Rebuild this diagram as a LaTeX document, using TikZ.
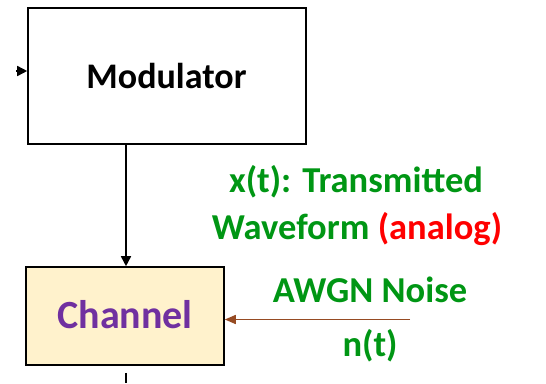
\documentclass[tikz,border=0pt]{standalone}
\usepackage{fontspec}
\setmainfont{Carlito}
\usetikzlibrary{arrows.meta}
\definecolor{tgreen}{RGB}{0,150,20}
\definecolor{tred}{RGB}{255,0,0}
\definecolor{tpurple}{RGB}{112,48,160}
\definecolor{tfill}{RGB}{255,242,204}
\definecolor{tbrown}{RGB}{150,75,35}
\tikzset{
  blockbox/.style={draw=black, line width=1.6pt, inner sep=0pt},
  conn/.style={line width=1.6pt, -{Triangle[length=10pt,width=10pt]}},
  lbl/.style={anchor=base, inner sep=0pt, font=\fontsize{36.5}{44}\selectfont\bfseries},
}
\begin{document}
\begin{tikzpicture}[x=1pt,y=-1pt]
\useasboundingbox (0,0) rectangle (546,383);
\node[blockbox, minimum width=278pt, minimum height=136pt] (mod) at (167,76) {};
\node[lbl, font=\fontsize{36}{44}\selectfont\bfseries] (modt) at (166.5,88) {Modulator};
\node[blockbox, fill=tfill, minimum width=198pt, minimum height=98pt] (chan) at (125,316) {};
\node[lbl, text=tpurple, font=\fontsize{40}{48}\selectfont\bfseries] (chant) at (125,328) {Channel};
\coordinate (inl) at (16,71);
\draw[conn] (inl) -- (mod.west |- inl);
\draw[conn] (126,144) coordinate (a1) -- (a1 |- chan.north);
\coordinate (outb) at (126,383);
\draw[line width=1.6pt] (chan.south -| outb) ++(0,7) -- (outb);
\node[lbl, text=tgreen] (x1) at (356,192) {x(t): Transmitted};
\node[lbl, text=tgreen] (x2) at (357,239) {Waveform \textcolor{tred}{(analog)}};
\node[lbl, text=tgreen] (awgn) at (370,302) {AWGN Noise};
\node[lbl, text=tgreen] (nt) at (370,356) {n(t)};
\coordinate (nstart) at (410,319.5);
\draw[line width=1.6pt, tbrown, -{Triangle[length=11pt,width=9pt]}] (nstart) -- (chan.east |- nstart);
\end{tikzpicture}
\end{document}
